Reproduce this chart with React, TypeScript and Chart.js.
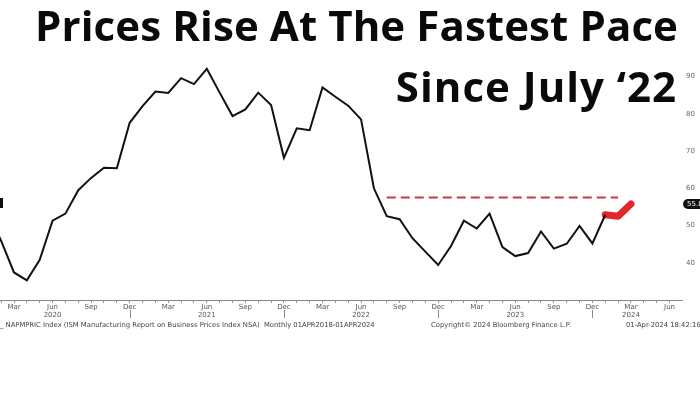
import React, { useEffect, useRef } from "react";
import { Chart, registerables } from "chart.js";

Chart.register(...registerables);

// Month labels, index 0 = Jan 2020
const months: string[] = [
  "Jan 2020", "Feb 2020", "Mar 2020", "Apr 2020", "May 2020", "Jun 2020", "Jul 2020", "Aug 2020", "Sep 2020", "Oct 2020", "Nov 2020", "Dec 2020",
  "Jan 2021", "Feb 2021", "Mar 2021", "Apr 2021", "May 2021", "Jun 2021", "Jul 2021", "Aug 2021", "Sep 2021", "Oct 2021", "Nov 2021", "Dec 2021",
  "Jan 2022", "Feb 2022", "Mar 2022", "Apr 2022", "May 2022", "Jun 2022", "Jul 2022", "Aug 2022", "Sep 2022", "Oct 2022", "Nov 2022", "Dec 2022",
  "Jan 2023", "Feb 2023", "Mar 2023", "Apr 2023", "May 2023", "Jun 2023", "Jul 2023", "Aug 2023", "Sep 2023", "Oct 2023", "Nov 2023", "Dec 2023",
  "Jan 2024", "Feb 2024", "Mar 2024", "Apr 2024", "May 2024", "Jun 2024",
];

// ISM Manufacturing Prices index (black line), Jan 2020 .. Jan 2024
const priceIndex: number[] = [
  53.3, 45.9, 37.4, 35.3, 40.8, 51.3, 53.2, 59.5, 62.8, 65.5, 65.4, 77.6,
  82.1, 86.0, 85.6, 89.6, 88.0, 92.1, 85.7, 79.4, 81.2, 85.7, 82.4, 68.2,
  76.1, 75.6, 87.1, 84.6, 82.2, 78.5, 60.0, 52.5, 51.7, 46.6, 43.0, 39.4,
  44.5, 51.3, 49.2, 53.2, 44.2, 41.8, 42.6, 48.4, 43.8, 45.1, 49.9, 45.2,
  52.9,
];

// Highlighted recent segment (red)
const recentMonths: string[] = ["Jan 2024", "Feb 2024", "Mar 2024"];
const recentValues: number[] = [52.9, 52.5, 55.8];

// Reference dashed level
const refMonths: string[] = ["Aug 2022", "Feb 2024"];
const refLevel: number[] = [57.5, 57.5];

const yTicks: number[] = [40, 50, 60, 70, 80, 90];
const lastValueLabel = "55.8";

const idx = (m: string) => months.indexOf(m);

const yearMarks = {
  id: "yearMarks",
  afterDraw(chart: any) {
    const xs = chart.scales.x;
    const ctx = chart.ctx;
    ctx.save();
    ctx.strokeStyle = "#888";
    ctx.lineWidth = 1;
    months.forEach((m, i) => {
      if (m.startsWith("Dec")) {
        const px = Math.round(xs.getPixelForValue(i)) + 0.5;
        ctx.beginPath();
        ctx.moveTo(px, xs.top + 10);
        ctx.lineTo(px, xs.top + 18);
        ctx.stroke();
      }
    });
    ctx.restore();
  },
};

export default function App() {
  const ref = useRef<HTMLCanvasElement>(null);
  useEffect(() => {
    if (!ref.current) return;
    const chart = new Chart(ref.current, {
      type: "line",
      data: {
        datasets: [
          {
            data: refMonths.map((m, i) => ({ x: idx(m), y: refLevel[i] })),
            borderColor: "#c9363f",
            borderWidth: 2,
            borderDash: [9, 5],
            pointRadius: 0,
          },
          {
            data: priceIndex.map((v, i) => ({ x: i, y: v })),
            borderColor: "#111",
            borderWidth: 2,
            pointRadius: 0,
            tension: 0,
          },
          {
            data: recentMonths.map((m, i) => ({ x: idx(m), y: recentValues[i] })),
            borderColor: "#e3262c",
            borderWidth: 7,
            borderCapStyle: "round",
            borderJoinStyle: "round",
            pointRadius: 0,
          },
        ],
      },
      options: {
        animation: false,
        responsive: false,
        devicePixelRatio: 1,
        layout: { padding: { top: 58, left: 0, right: 0, bottom: 0 } },
        plugins: { legend: { display: false }, tooltip: { enabled: false } },
        scales: {
          x: {
            type: "linear",
            min: 0.91,
            max: 53.97,
            afterBuildTicks: (s: any) => {
              s.ticks = months.slice(1).map((_, i) => ({ value: i + 1 }));
            },
            afterFit: (s: any) => {
              s.height = 94;
            },
            ticks: {
              autoSkip: false,
              maxRotation: 0,
              padding: 0,
              color: "#555",
              font: { family: "DejaVu Sans", size: 7 },
              callback: (v: any) => {
                const i = Number(v);
                const m = months[i];
                if (!m) return "";
                const [mn, yr] = m.split(" ");
                if (!["Mar", "Jun", "Sep", "Dec"].includes(mn)) return "";
                if (mn === "Jun" && yr !== "2024") return [mn, yr];
                if (mn === "Mar" && yr === "2024") return [mn, yr];
                return mn;
              },
            },
            grid: { display: true, drawOnChartArea: false, drawTicks: true, tickLength: 3, color: "#999" },
            border: { display: true, color: "#888", width: 1 },
          },
          y: {
            type: "linear",
            position: "right",
            min: 30,
            max: 95,
            afterBuildTicks: (s: any) => {
              s.ticks = yTicks.map((v) => ({ value: v }));
            },
            afterFit: (s: any) => {
              s.width = 18;
            },
            ticks: {
              padding: 4,
              color: "#666",
              font: { family: "DejaVu Sans", size: 7 },
            },
            grid: { display: false, drawTicks: false, tickLength: 0 },
            border: { display: false },
          },
        },
      },
      plugins: [yearMarks],
    } as any);
    return () => chart.destroy();
  }, []);

  const footer: React.CSSProperties = {
    position: "absolute",
    top: 321,
    fontFamily: "DejaVu Sans",
    fontSize: 6.8,
    lineHeight: "9px",
    color: "#444",
    whiteSpace: "pre",
  };

  const title: React.CSSProperties = {
    position: "absolute",
    fontFamily: "'Open Sans'",
    fontWeight: 700,
    fontSize: 42,
    lineHeight: "42px",
    color: "#0a0a0a",
    whiteSpace: "nowrap",
  };

  return (
    <div style={{ position: "fixed", left: 0, top: 0, width: 700, height: 394, overflow: "hidden", background: "#fff" }}>
      <canvas ref={ref} width={700} height={394} style={{ position: "absolute", left: 0, top: 0 }} />
      <div style={{ ...title, left: 35, top: 4, letterSpacing: "0.1px" }}>Prices Rise At The Fastest Pace</div>
      <div style={{ ...title, right: 23, top: 65, letterSpacing: "1px" }}>Since July ‘22</div>
      <div style={{ position: "absolute", left: 0, top: 198, width: 3, height: 10, background: "#111" }} />
      <div
        style={{
          position: "absolute", left: 683, top: 199, height: 10, paddingLeft: 4, paddingRight: 4,
          background: "#111", color: "#fff", borderRadius: "5px 0 0 5px", fontFamily: "DejaVu Sans",
          fontSize: 7, lineHeight: "10px",
        }}
      >
        {lastValueLabel}
      </div>
      <div style={{ ...footer, left: 0 }}>{"_ NAPMPRIC Index (ISM Manufacturing Report on Business Prices Index NSA)  Monthly 01APR2018-01APR2024"}</div>
      <div style={{ ...footer, left: 431 }}>{"Copyright© 2024 Bloomberg Finance L.P."}</div>
      <div style={{ ...footer, left: 626 }}>{"01-Apr-2024 18:42:16"}</div>
    </div>
  );
}
